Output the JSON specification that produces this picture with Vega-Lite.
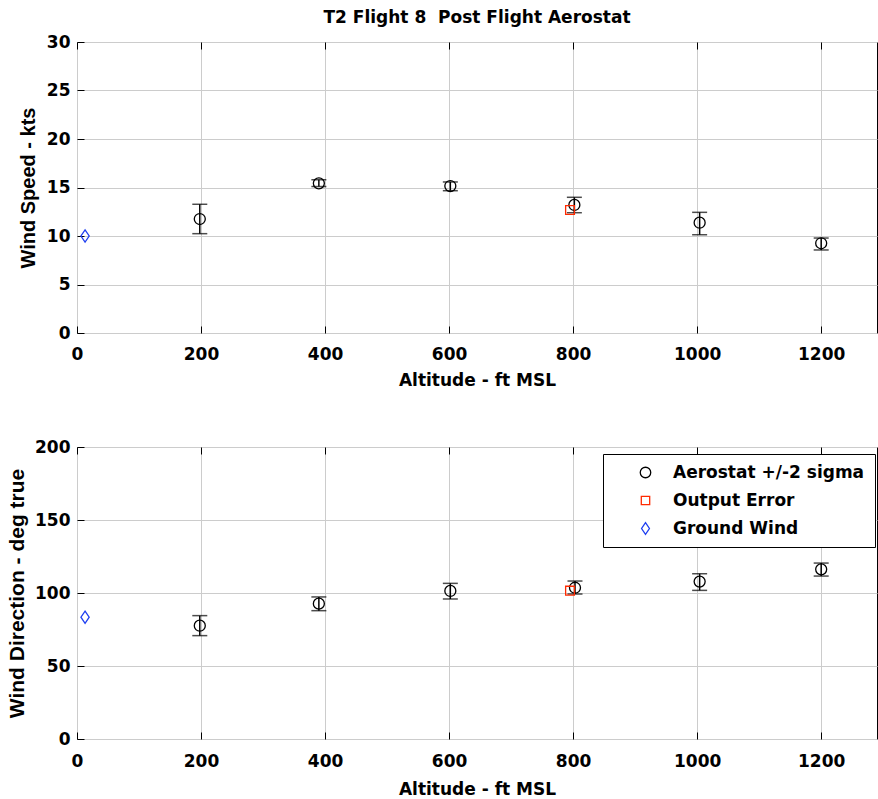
{
  "$schema": "https://vega.github.io/schema/vega-lite/v6.json",
  "padding": {"left": 6, "top": 8, "right": 0, "bottom": 0},
  "bounds": "flush",
  "spacing": 114,
  "resolve": {"scale": {"color": "independent", "shape": "independent"}},
  "datasets": {
    "speed": [
      {"alt": 198, "val": 11.75, "lo": 10.24, "hi": 13.27, "series": "Aerostat +/-2 sigma"},
      {"alt": 390, "val": 15.43, "lo": 15.1, "hi": 15.8, "series": "Aerostat +/-2 sigma"},
      {"alt": 602, "val": 15.15, "lo": 14.67, "hi": 15.57, "series": "Aerostat +/-2 sigma"},
      {"alt": 802, "val": 13.2, "lo": 12.4, "hi": 13.99, "series": "Aerostat +/-2 sigma"},
      {"alt": 1004, "val": 11.37, "lo": 10.13, "hi": 12.44, "series": "Aerostat +/-2 sigma"},
      {"alt": 1200, "val": 9.25, "lo": 8.56, "hi": 9.79, "series": "Aerostat +/-2 sigma"},
      {"alt": 795, "val": 12.68, "series": "Output Error"},
      {"alt": 13, "val": 10.0, "series": "Ground Wind"}
    ],
    "direction": [
      {"alt": 198, "val": 77.6, "lo": 70.8, "hi": 84.5, "series": "Aerostat +/-2 sigma"},
      {"alt": 390, "val": 92.7, "lo": 87.9, "hi": 97.3, "series": "Aerostat +/-2 sigma"},
      {"alt": 602, "val": 101.4, "lo": 95.9, "hi": 106.6, "series": "Aerostat +/-2 sigma"},
      {"alt": 803, "val": 103.6, "lo": 99.3, "hi": 108.2, "series": "Aerostat +/-2 sigma"},
      {"alt": 1004, "val": 107.8, "lo": 101.8, "hi": 113.2, "series": "Aerostat +/-2 sigma"},
      {"alt": 1200, "val": 116.2, "lo": 111.6, "hi": 120.5, "series": "Aerostat +/-2 sigma"},
      {"alt": 795, "val": 101.6, "series": "Output Error"},
      {"alt": 13, "val": 83.4, "series": "Ground Wind"}
    ]
  },
  "vconcat": [
    {
      "width": 800,
      "height": 291,
      "title": {"text": "T2 Flight 8\u00a0 Post Flight Aerostat", "font": "DejaVu Sans", "fontWeight": "bold", "fontSize": 17, "color": "black", "offset": 6},
      "data": {"name": "speed"},
      "resolve": {"axis": {"x": "independent"}},
      "layer": [
        {
          "transform": [{"filter": "isValid(datum.lo)"}],
          "mark": {"type": "rule", "color": "black", "strokeWidth": 1.5},
          "encoding": {
            "x": {"field": "alt", "type": "quantitative", "scale": {"domain": [0, 1290], "nice": false}, "axis": {"values": [0, 200, 400, 600, 800, 1000, 1200], "format": "d", "title": "Altitude - ft MSL", "labelPadding": 20, "titlePadding": 10, "grid": true}},
            "y": {"field": "lo", "type": "quantitative", "scale": {"domain": [0, 30], "nice": false}, "axis": {"values": [0, 5, 10, 15, 20, 25, 30], "title": "Wind Speed - kts", "labelPadding": 14, "titlePadding": 8, "titleFontSize": 20, "grid": true}},
            "y2": {"field": "hi"}
          }
        },
        {
          "transform": [{"filter": "isValid(datum.lo)"}],
          "mark": {"type": "tick", "orient": "horizontal", "color": "black", "size": 15, "thickness": 1.5},
          "encoding": {
            "x": {"field": "alt", "type": "quantitative", "axis": null},
            "y": {"field": "lo", "type": "quantitative"}
          }
        },
        {
          "transform": [{"filter": "isValid(datum.hi)"}],
          "mark": {"type": "tick", "orient": "horizontal", "color": "black", "size": 15, "thickness": 1.5},
          "encoding": {
            "x": {"field": "alt", "type": "quantitative", "axis": null},
            "y": {"field": "hi", "type": "quantitative"}
          }
        },
        {
          "mark": {"type": "point", "filled": false, "strokeWidth": 1.3, "size": 121, "opacity": 1},
          "encoding": {
            "x": {"field": "alt", "type": "quantitative", "axis": {"orient": "top", "values": [0, 200, 400, 600, 800, 1000, 1200], "labels": false, "title": null, "grid": false}},
            "y": {"field": "val", "type": "quantitative"},
            "color": {"field": "series", "type": "nominal", "scale": {"domain": ["Aerostat +/-2 sigma", "Output Error", "Ground Wind"], "range": ["#000000", "#ff2a00", "#1f3ff0"]}, "legend": null},
            "shape": {"field": "series", "type": "nominal", "scale": {"domain": ["Aerostat +/-2 sigma", "Output Error", "Ground Wind"], "range": ["circle", "M-0.8,-0.8H0.8V0.8H-0.8Z", "M0,-1.1L0.75,0L0,1.1L-0.75,0Z"]}, "legend": null}
          }
        }
      ]
    },
    {
      "width": 800,
      "height": 292,
      "data": {"name": "direction"},
      "resolve": {"axis": {"x": "independent"}},
      "layer": [
        {
          "transform": [{"filter": "isValid(datum.lo)"}],
          "mark": {"type": "rule", "color": "black", "strokeWidth": 1.5},
          "encoding": {
            "x": {"field": "alt", "type": "quantitative", "scale": {"domain": [0, 1290], "nice": false}, "axis": {"values": [0, 200, 400, 600, 800, 1000, 1200], "format": "d", "title": "Altitude - ft MSL", "labelPadding": 21, "titlePadding": 12, "grid": true}},
            "y": {"field": "lo", "type": "quantitative", "scale": {"domain": [0, 200], "nice": false}, "axis": {"values": [0, 50, 100, 150, 200], "title": "Wind Direction - deg true", "labelPadding": 14, "titlePadding": 7, "titleFontSize": 21, "grid": true}},
            "y2": {"field": "hi"}
          }
        },
        {
          "transform": [{"filter": "isValid(datum.lo)"}],
          "mark": {"type": "tick", "orient": "horizontal", "color": "black", "size": 15, "thickness": 1.5},
          "encoding": {
            "x": {"field": "alt", "type": "quantitative", "axis": null},
            "y": {"field": "lo", "type": "quantitative"}
          }
        },
        {
          "transform": [{"filter": "isValid(datum.hi)"}],
          "mark": {"type": "tick", "orient": "horizontal", "color": "black", "size": 15, "thickness": 1.5},
          "encoding": {
            "x": {"field": "alt", "type": "quantitative", "axis": null},
            "y": {"field": "hi", "type": "quantitative"}
          }
        },
        {
          "mark": {"type": "point", "filled": false, "strokeWidth": 1.3, "size": 121, "opacity": 1},
          "encoding": {
            "x": {"field": "alt", "type": "quantitative", "axis": {"orient": "top", "values": [0, 200, 400, 600, 800, 1000, 1200], "labels": false, "title": null, "grid": false}},
            "y": {"field": "val", "type": "quantitative"},
            "color": {"field": "series", "type": "nominal", "scale": {"domain": ["Aerostat +/-2 sigma", "Output Error", "Ground Wind"], "range": ["#000000", "#ff2a00", "#1f3ff0"]}, "legend": {"title": null, "orient": "none", "legendX": 526, "legendY": 7, "padding": 10, "symbolOffset": 24, "labelOffset": 19, "rowPadding": 10, "strokeColor": "black", "fillColor": "white", "symbolSize": 110, "symbolStrokeWidth": 1.3, "labelFont": "DejaVu Sans", "labelFontWeight": "bold", "labelFontSize": 17, "labelColor": "black", "labelLimit": 400}},
            "shape": {"field": "series", "type": "nominal", "scale": {"domain": ["Aerostat +/-2 sigma", "Output Error", "Ground Wind"], "range": ["circle", "M-0.8,-0.8H0.8V0.8H-0.8Z", "M0,-1.1L0.75,0L0,1.1L-0.75,0Z"]}, "legend": {"title": null, "orient": "none", "legendX": 526, "legendY": 7, "padding": 10, "symbolOffset": 24, "labelOffset": 19, "rowPadding": 10, "strokeColor": "black", "fillColor": "white", "symbolSize": 110, "symbolStrokeWidth": 1.3, "labelFont": "DejaVu Sans", "labelFontWeight": "bold", "labelFontSize": 17, "labelColor": "black", "labelLimit": 400}}
          }
        }
      ]
    }
  ],
  "config": {
    "view": {"stroke": "black", "strokeWidth": 1},
    "axis": {
      "labelFont": "DejaVu Sans", "labelFontWeight": "bold", "labelFontSize": 17, "labelColor": "black", "labelFlush": false,
      "titleFont": "DejaVu Sans", "titleFontWeight": "bold", "titleFontSize": 17, "titleColor": "black",
      "domain": false, "tickColor": "black", "tickSize": -7, "tickWidth": 1,
      "gridColor": "#cccccc", "gridWidth": 1
    },
    "axisY": {"titleFont": "Liberation Sans"}
  }
}
